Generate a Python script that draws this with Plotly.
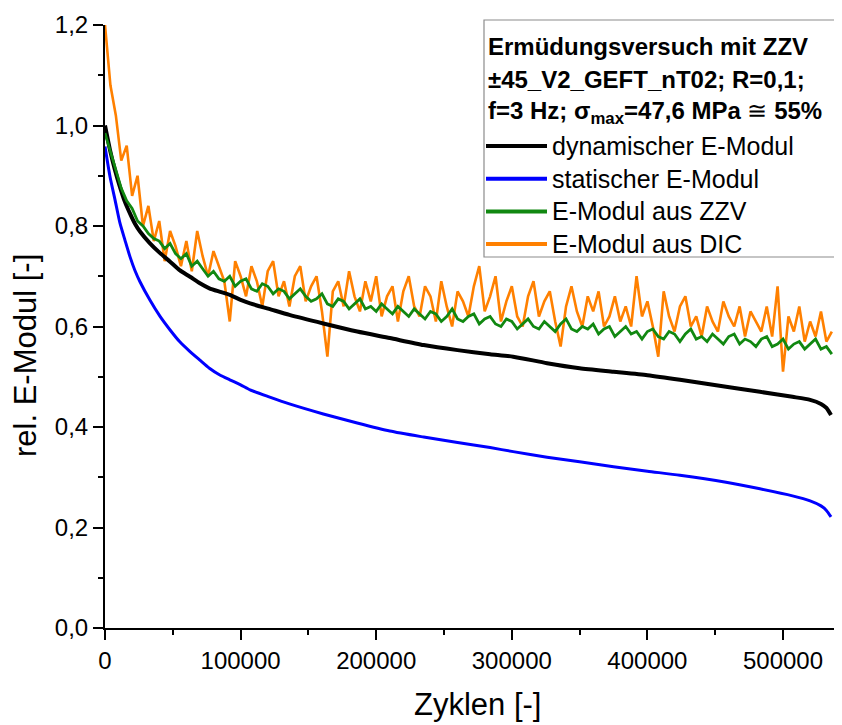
import plotly.graph_objects as go

# ---------------- data ----------------
# smooth curves (dynamic / static modulus)
curve_cycles = [0, 3700, 7400, 11000, 14700, 18400, 22000, 25800,
                33000, 40600, 48000, 55000, 62700, 70000, 77000, 85000, 92000, 100000,
                107000, 121000, 136000, 161000, 186000, 210000, 235000, 260000, 284000, 301000,
                326000, 350000, 375000, 400000, 424000, 458000, 483000, 507000, 520000, 528000,
                532000, 535400]
dyn_modulus = [1.0, 0.951, 0.911, 0.878, 0.848, 0.825, 0.805, 0.789,
               0.766, 0.746, 0.729, 0.712, 0.699, 0.686, 0.676, 0.669, 0.663, 0.653,
               0.646, 0.635, 0.623, 0.606, 0.59, 0.577, 0.563, 0.553, 0.545, 0.54,
               0.527, 0.517, 0.51, 0.503, 0.494, 0.48, 0.47, 0.46, 0.454, 0.446,
               0.438, 0.424]
stat_modulus = [0.958, 0.898, 0.852, 0.806, 0.772, 0.739, 0.712, 0.689,
                0.653, 0.62, 0.593, 0.57, 0.55, 0.533, 0.517, 0.503, 0.494, 0.484,
                0.474, 0.46, 0.446, 0.426, 0.408, 0.392, 0.38, 0.369, 0.359, 0.351,
                0.34, 0.331, 0.321, 0.312, 0.304, 0.29, 0.277, 0.263, 0.253, 0.243,
                0.234, 0.221]

# noisy curves, one sample every 4000 cycles
noisy_cycles = list(range(0, 536001, 4000))
zzv_modulus = [
    0.985, 0.95, 0.91, 0.875, 0.85, 0.835, 0.81, 0.80, 0.785, 0.775,
    0.77, 0.755, 0.765, 0.745, 0.735, 0.745, 0.72, 0.73, 0.715, 0.70,
    0.71, 0.695, 0.69, 0.70, 0.68, 0.69, 0.695, 0.675, 0.67, 0.685,
    0.68, 0.665, 0.675, 0.67, 0.655, 0.665, 0.675, 0.66, 0.65, 0.655,
    0.665, 0.645, 0.64, 0.655, 0.65, 0.635, 0.645, 0.655, 0.635, 0.64,
    0.63, 0.645, 0.635, 0.625, 0.64, 0.63, 0.62, 0.635, 0.625, 0.615,
    0.63, 0.625, 0.61, 0.62, 0.635, 0.615, 0.61, 0.62, 0.625, 0.605,
    0.615, 0.62, 0.605, 0.60, 0.615, 0.61, 0.595, 0.605, 0.615, 0.60,
    0.595, 0.61, 0.60, 0.59, 0.605, 0.615, 0.595, 0.59, 0.60, 0.595,
    0.605, 0.585, 0.595, 0.60, 0.58, 0.59, 0.60, 0.585, 0.59, 0.575,
    0.59, 0.595, 0.58, 0.575, 0.59, 0.585, 0.57, 0.585, 0.595, 0.575,
    0.58, 0.57, 0.585, 0.575, 0.565, 0.58, 0.585, 0.565, 0.575, 0.57,
    0.56, 0.575, 0.58, 0.56, 0.565, 0.575, 0.555, 0.565, 0.57, 0.555,
    0.565, 0.575, 0.555, 0.56, 0.545]
dic_modulus = [
    1.20, 1.08, 1.02, 0.93, 0.96, 0.86, 0.90, 0.80, 0.84, 0.77,
    0.81, 0.73, 0.79, 0.76, 0.72, 0.77, 0.71, 0.79, 0.74, 0.70,
    0.75, 0.72, 0.69, 0.61, 0.73, 0.70, 0.66, 0.72, 0.69, 0.64,
    0.71, 0.73, 0.66, 0.69, 0.64, 0.70, 0.72, 0.65, 0.68, 0.70,
    0.63, 0.54, 0.67, 0.69, 0.64, 0.71, 0.66, 0.63, 0.69, 0.65,
    0.70, 0.62, 0.66, 0.68, 0.61, 0.67, 0.70, 0.64, 0.62, 0.68,
    0.66, 0.61, 0.69, 0.64, 0.60, 0.67, 0.65, 0.62, 0.68, 0.72,
    0.63, 0.66, 0.70, 0.61, 0.65, 0.68, 0.62, 0.60, 0.66, 0.69,
    0.62, 0.65, 0.67, 0.61, 0.56, 0.64, 0.68, 0.63, 0.60, 0.66,
    0.63, 0.67, 0.60, 0.62, 0.66, 0.61, 0.64, 0.60, 0.70, 0.62,
    0.65, 0.60, 0.54, 0.67, 0.62, 0.59, 0.64, 0.66, 0.60, 0.62,
    0.58, 0.64, 0.61, 0.59, 0.65, 0.62, 0.60, 0.64, 0.58, 0.63,
    0.61, 0.59, 0.64, 0.58, 0.68, 0.51, 0.62, 0.59, 0.64, 0.57,
    0.61, 0.58, 0.63, 0.57, 0.59]

series_names = ["dynamischer E-Modul", "statischer E-Modul", "E-Modul aus ZZV", "E-Modul aus DIC"]
series_colors = ["#000000", "#0000ff", "#118811", "#ff8000"]

x_tickvals = [0, 100000, 200000, 300000, 400000, 500000]
x_ticktext = ["0", "100000", "200000", "300000", "400000", "500000"]
x_minor = [50000, 150000, 250000, 350000, 450000]
y_tickvals = [0.0, 0.2, 0.4, 0.6, 0.8, 1.0, 1.2]
y_ticktext = ["0,0", "0,2", "0,4", "0,6", "0,8", "1,0", "1,2"]
y_minor = [0.1, 0.3, 0.5, 0.7, 0.9, 1.1]

x_title = "Zyklen [-]"
y_title = "rel. E-Modul [-]"
legend_header = ["<b>Ermüdungsversuch mit ZZV</b>",
                 "<b>±45_V2_GEFT_nT02; R=0,1;</b>",
                 "<b>f=3 Hz; σ<sub>max</sub>=47,6 MPa</b> ≅ <b>55%</b>"]

# ---------------- figure ----------------
FONT = "Liberation Sans, Arial, sans-serif"
# the page body has an 8 px margin: the figure is drawn 8 px right/down,
# so it is made 8 px smaller to fill the 842x725 window exactly.
OFF = 8
W, H = 842 - OFF, 725 - OFF
L, R, T, B = 105 - OFF, 0, 25 - OFF, 97
PW, PH = W - L - R, H - T - B


def px(p):  # window pixel -> paper x
    return (p - OFF - L) / PW


def py(p):  # window pixel -> paper y
    return (H - B - (p - OFF)) / PH


fig = go.Figure()
fig.add_trace(go.Scatter(x=noisy_cycles, y=dic_modulus, mode="lines", name=series_names[3],
                         line=dict(color=series_colors[3], width=2.6)))
fig.add_trace(go.Scatter(x=curve_cycles, y=stat_modulus, mode="lines", name=series_names[1],
                         line=dict(color=series_colors[1], width=3, shape="spline", smoothing=0.6)))
fig.add_trace(go.Scatter(x=curve_cycles, y=dyn_modulus, mode="lines", name=series_names[0],
                         line=dict(color=series_colors[0], width=4, shape="spline", smoothing=0.6)))
fig.add_trace(go.Scatter(x=noisy_cycles, y=zzv_modulus, mode="lines", name=series_names[2],
                         line=dict(color=series_colors[2], width=2.8)))

shapes = [dict(type="rect", xref="paper", yref="paper", x0=px(484), x1=px(835), y0=py(257), y1=py(20),
               line=dict(color="#8c8c8c", width=1.2), fillcolor="white", layer="above")]
annotations = []
for i, txt in enumerate(legend_header):
    annotations.append(dict(xref="paper", yref="paper", x=px(486), y=py(47 + 32.5 * i), text=txt,
                            showarrow=False, xanchor="left", yanchor="middle",
                            font=dict(family=FONT, size=24, color="black")))
for k in range(4):
    yy = 146 + 32.7 * k
    shapes.append(dict(type="line", xref="paper", yref="paper", x0=px(486), x1=px(547), y0=py(yy), y1=py(yy),
                       line=dict(color=series_colors[k], width=4), layer="above"))
    annotations.append(dict(xref="paper", yref="paper", x=px(550), y=py(yy), text=series_names[k],
                            showarrow=False, xanchor="left", yanchor="middle",
                            font=dict(family=FONT, size=25, color="black")))

# axis titles
annotations.append(dict(xref="paper", yref="paper", x=px(477), y=py(704), text=x_title, showarrow=False,
                        xanchor="center", yanchor="middle", font=dict(family=FONT, size=31, color="black")))
annotations.append(dict(xref="paper", yref="paper", x=px(25), y=py(356), text=y_title, showarrow=False,
                        textangle=-90, xanchor="center", yanchor="middle",
                        font=dict(family=FONT, size=31, color="black")))

fig.update_layout(
    width=W, height=H,
    margin=dict(l=L, r=R, t=T, b=B, pad=0, autoexpand=False),
    paper_bgcolor="white", plot_bgcolor="white",
    showlegend=False,
    font=dict(family=FONT, color="black"),
    shapes=shapes, annotations=annotations,
)
fig.update_xaxes(
    range=[0, 543500], showgrid=False, zeroline=False, automargin=False,
    showline=True, linecolor="black", linewidth=2,
    tickmode="array", tickvals=x_tickvals, ticktext=x_ticktext,
    ticks="outside", ticklen=10, tickwidth=2, tickcolor="black",
    tickfont=dict(family=FONT, size=24),
    minor=dict(tickvals=x_minor, ticks="outside", ticklen=5, tickwidth=2, tickcolor="black"),
)
fig.update_yaxes(
    range=[0, 1.2], showgrid=False, zeroline=False, automargin=False,
    showline=True, linecolor="black", linewidth=2,
    tickmode="array", tickvals=y_tickvals, ticktext=y_ticktext,
    ticks="outside", ticklen=10, tickwidth=2, tickcolor="black",
    tickfont=dict(family=FONT, size=24),
    minor=dict(tickvals=y_minor, ticks="outside", ticklen=5, tickwidth=2, tickcolor="black"),
)

fig.write_html("out.html")
